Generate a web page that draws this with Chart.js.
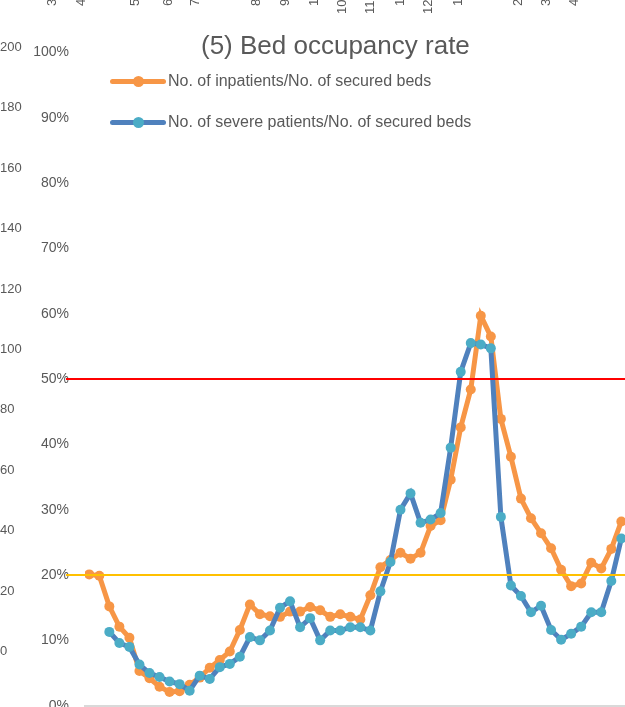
<!DOCTYPE html>
<html>
<head>
<meta charset="utf-8">
<script src="https://cdn.jsdelivr.net/npm/chart.js@4.4.0/dist/chart.umd.min.js"></script>
<style>
  html, body { margin: 0; padding: 0; width: 625px; height: 707px; overflow: hidden; background: #fff; }
  body { font-family: "Liberation Sans", Arial, sans-serif; color: #595959; position: relative; }
  #wrap { position: absolute; left: 0; top: 0; width: 640px; height: 740px; }
  .title { position: absolute; left: 201px; top: 30px; font-size: 26px; line-height: 30px; white-space: nowrap; }
  .leg { position: absolute; left: 110px; height: 20px; font-size: 16px; line-height: 20px; white-space: nowrap; }
  .leg .ln { position: absolute; left: 0; top: 8px; width: 56px; height: 5px; border-radius: 2.5px; }
  .leg .dot { position: absolute; left: 23px; top: 5px; width: 11px; height: 11px; border-radius: 50%; }
  .leg .txt { position: absolute; left: 58px; top: 0; }
  .side { position: absolute; left: 0; font-size: 13px; line-height: 15px; }
  .cut { position: absolute; font-size: 13px; line-height: 15px; white-space: nowrap; transform-origin: 0 0; transform: rotate(-90deg); }
</style>
</head>
<body>
<div id="wrap"><canvas id="bedChart" width="640" height="740"></canvas></div>

<div class="title">(5) Bed occupancy rate</div>
<div class="leg" style="top:71px"><span class="ln" style="background:#F79646"></span><span class="dot" style="background:#F79646"></span><span class="txt">No. of inpatients/No. of secured beds</span></div>
<div class="leg" style="top:112px"><span class="ln" style="background:#4F81BD"></span><span class="dot" style="background:#4BACC6"></span><span class="txt">No. of severe patients/No. of secured beds</span></div>
<div id="side"></div>
<div id="cut"></div>

<script>
// weekly points (values in %)
const weeks = [1, 2, 3, 4, 5, 6, 7, 8, 9, 10, 11, 12, 13, 14, 15, 16, 17, 18,
  19, 20, 21, 22, 23, 24, 25, 26, 27, 28, 29, 30, 31, 32, 33, 34, 35, 36,
  37, 38, 39, 40, 41, 42, 43, 44, 45, 46, 47, 48, 49, 50, 51, 52, 53, 54];

const inpatientRate = [
  20.1, 19.9, 15.2, 12.1, 10.4, 5.3, 4.2, 2.9, 2.1, 2.2,
  3.2, 4.3, 5.8, 7.0, 8.3, 11.6, 15.5, 14.0, 13.7, 13.6,
  14.4, 14.4, 15.1, 14.6, 13.6, 14.0, 13.6, 13.2, 16.9, 21.2,
  22.3, 23.4, 22.5, 23.4, 27.5, 28.4, 34.6, 42.6, 48.4, 59.7,
  56.5, 43.9, 38.1, 31.7, 28.7, 26.4, 24.1, 20.8, 18.3, 18.7,
  21.9, 21.0, 24.0, 28.2
];

const severeRate = [
  null, null, 11.3, 9.6, 9.0, 6.3, 5.0, 4.4, 3.7, 3.3,
  2.3, 4.6, 4.1, 5.9, 6.4, 7.5, 10.5, 10.0, 11.5, 15.0,
  16.0, 12.0, 13.4, 10.0, 11.5, 11.5, 12.0, 12.0, 11.5, 17.5,
  22.0, 30.0, 32.5, 28.0, 28.5, 29.5, 39.5, 51.1, 55.5, 55.3,
  54.7, 28.9, 18.4, 16.8, 14.3, 15.3, 11.6, 10.1, 11.0, 12.1,
  14.3, 14.3, 19.1, 25.6
];

const redLevel = 50;
const yellowLevel = 20;

// pieces of the neighbouring chart that show at the edges
const sideTicks = ['200', '180', '160', '140', '120', '100', '80', '60', '40', '20', '0'];
const topMonths = ['3', '4', '5', '6', '7', '8', '9', '1', '10', '11', '1', '12', '1', '2', '3', '4'];

const FONT = '"Liberation Sans", Arial, sans-serif';

// side labels
const side = document.getElementById('side');
sideTicks.forEach((t, i) => {
  const d = document.createElement('div');
  d.className = 'side';
  d.style.top = (46.4 + i * 60.4 - 7.5) + 'px';
  d.textContent = t;
  side.appendChild(d);
});

// cut-off rotated labels along the top edge
const cutX = [51, 80, 134, 167, 194, 255, 284, 313, 341, 369, 399, 427, 457, 517, 545, 573];
const cut = document.getElementById('cut');
topMonths.forEach((t, i) => {
  const d = document.createElement('div');
  d.className = 'cut';
  d.style.left = (cutX[i] - 7.5) + 'px';
  d.style.top = (t.length > 1 ? 14 : 6) + 'px';
  d.textContent = t;
  cut.appendChild(d);
});

const toPoints = arr => weeks.map((w, i) => ({ x: i, y: arr[i] }));

new Chart(document.getElementById('bedChart'), {
  type: 'line',
  data: {
    datasets: [
      {
        label: 'No. of inpatients/No. of secured beds',
        data: toPoints(inpatientRate),
        borderColor: '#F79646',
        backgroundColor: '#F79646',
        pointBackgroundColor: '#F79646',
        borderWidth: 5,
        pointRadius: 5,
        pointHoverRadius: 5,
        pointBorderWidth: 0,
        tension: 0,
        order: 1
      },
      {
        label: 'No. of severe patients/No. of secured beds',
        data: toPoints(severeRate),
        borderColor: '#4F81BD',
        backgroundColor: '#4BACC6',
        pointBackgroundColor: '#4BACC6',
        borderWidth: 5,
        pointRadius: 5,
        pointHoverRadius: 5,
        pointBorderWidth: 0,
        tension: 0,
        order: 0
      }
    ]
  },
  options: {
    responsive: false,
    animation: false,
    layout: { padding: { top: 52.4, bottom: 34.3, left: 0, right: 0 } },
    plugins: {
      legend: { display: false },
      title: { display: false },
      tooltip: { enabled: false }
    },
    scales: {
      x: {
        type: 'linear',
        min: -0.4245,
        max: 54.36,
        afterFit: s => { s.height = 0; },
        ticks: { display: false },
        grid: { display: false },
        border: { display: true, color: '#D9D9D9', width: 2 }
      },
      y: {
        min: 0,
        max: 100,
        afterFit: s => { s.width = 85; },
        border: { display: false },
        grid: {
          z: 1,
          lineWidth: 2,
          drawTicks: true,
          tickLength: 19,
          color: c => {
            if (!c.tick) return 'rgba(0,0,0,0)';
            if (c.tick.value === redLevel) return '#FF0000';
            if (c.tick.value === yellowLevel) return '#FFC000';
            return 'rgba(0,0,0,0)';
          }
        },
        ticks: {
          stepSize: 10,
          padding: -3,
          color: '#595959',
          font: { family: FONT, size: 14 },
          callback: v => v + '%'
        }
      }
    }
  }
});
</script>
</body>
</html>
